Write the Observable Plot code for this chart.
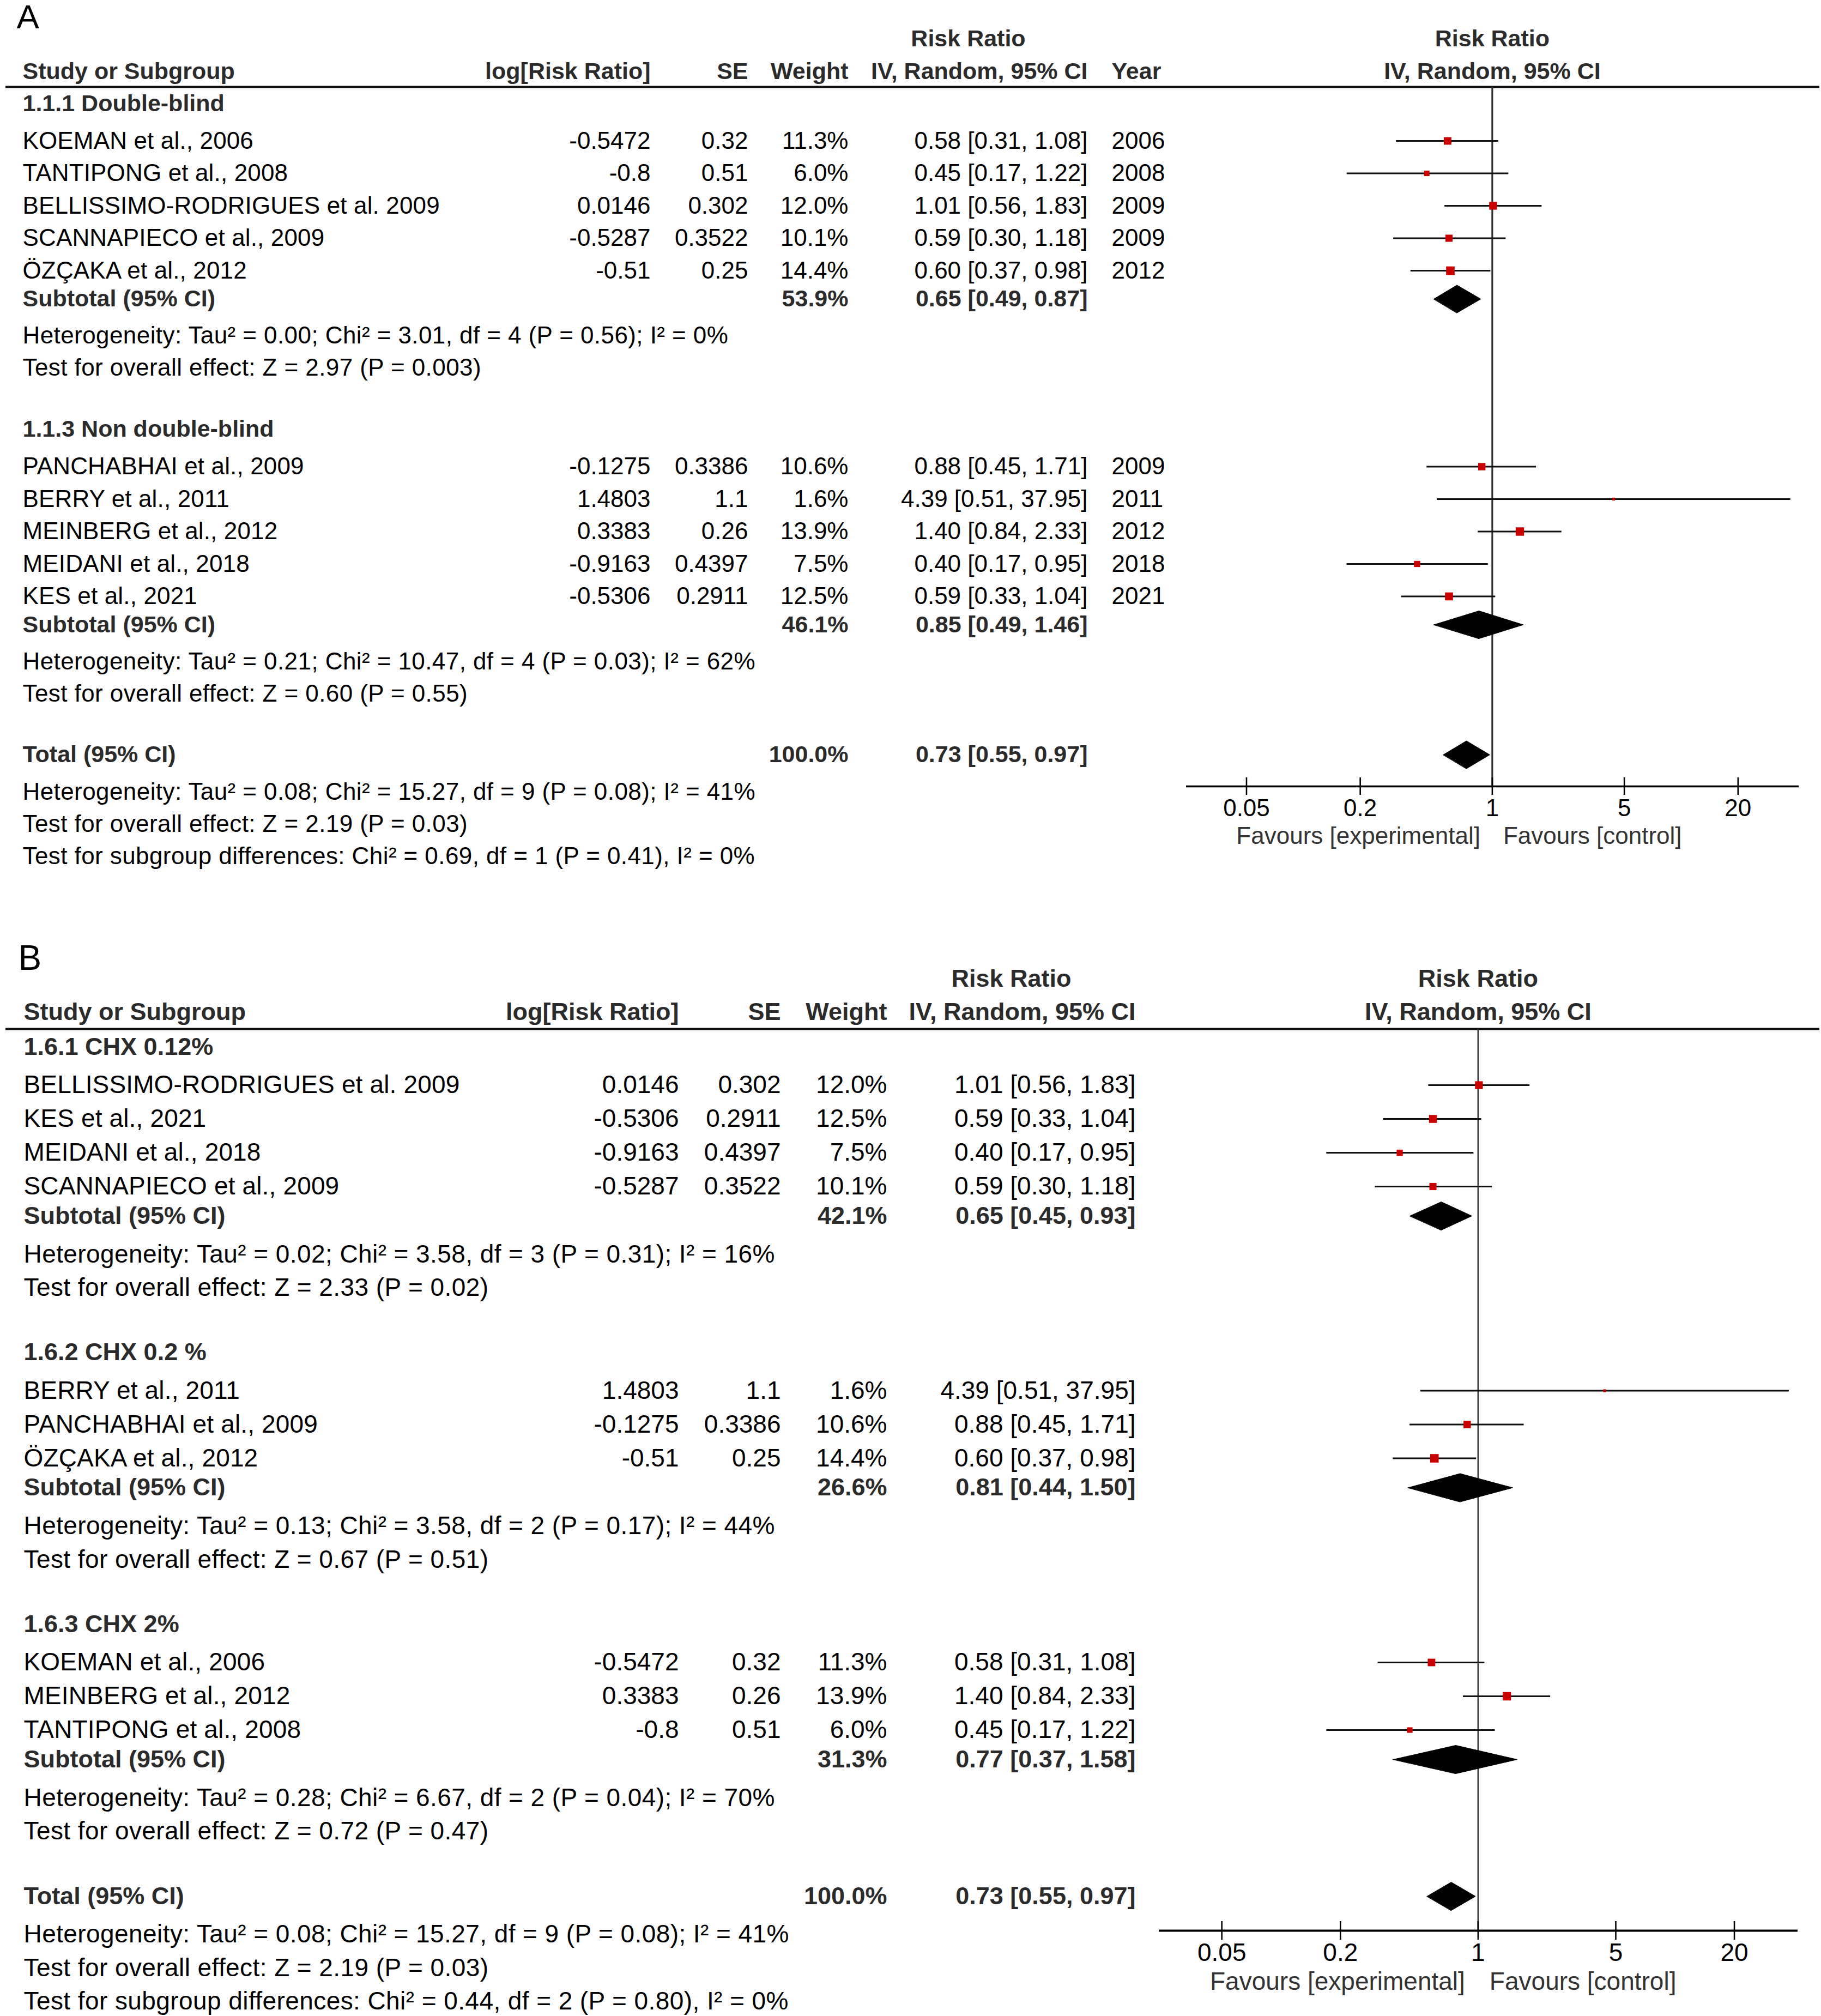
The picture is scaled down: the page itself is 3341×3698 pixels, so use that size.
<!DOCTYPE html>
<html>
<head>
<meta charset="utf-8">
<script src="https://cdn.jsdelivr.net/npm/d3@7"></script>
<script src="https://cdn.jsdelivr.net/npm/@observablehq/plot@0.6"></script>
<style>
html, body { margin: 0; padding: 0; background: #fff; }
#page { position: relative; width: 3341px; height: 3698px; background: #fff; }
.panel { position: absolute; left: 0; width: 3341px; }
.panel svg { position: absolute; left: 0; top: 0; max-width: none; }
</style>
</head>
<body>
<div id="page"></div>
<script>
// ---------------- DATA ----------------
const studyName = ["KOEMAN et al., 2006", "TANTIPONG et al., 2008", "BELLISSIMO-RODRIGUES et al. 2009",
  "SCANNAPIECO et al., 2009", "ÖZÇAKA et al., 2012", "PANCHABHAI et al., 2009", "BERRY et al., 2011",
  "MEINBERG et al., 2012", "MEIDANI et al., 2018", "KES et al., 2021"];
const logRR  = [-0.5472, -0.8, 0.0146, -0.5287, -0.51, -0.1275, 1.4803, 0.3383, -0.9163, -0.5306];
const SE     = [0.32, 0.51, 0.302, 0.3522, 0.25, 0.3386, 1.1, 0.26, 0.4397, 0.2911];
const weight = [11.3, 6.0, 12.0, 10.1, 14.4, 10.6, 1.6, 13.9, 7.5, 12.5];
const rr     = [0.58, 0.45, 1.01, 0.59, 0.60, 0.88, 4.39, 1.40, 0.40, 0.59];
const ciLow  = [0.31, 0.17, 0.56, 0.30, 0.37, 0.45, 0.51, 0.84, 0.17, 0.33];
const ciHigh = [1.08, 1.22, 1.83, 1.18, 0.98, 1.71, 37.95, 2.33, 0.95, 1.04];
const year   = [2006, 2008, 2009, 2009, 2012, 2009, 2011, 2012, 2018, 2021];

// Panel A subgroups
const groupTitleA   = ["1.1.1 Double-blind", "1.1.3 Non double-blind"];
const groupMembersA = [[0, 1, 2, 3, 4], [5, 6, 7, 8, 9]];
const subWeightA = [53.9, 46.1];
const subRRA     = [0.65, 0.85];
const subLowA    = [0.49, 0.49];
const subHighA   = [0.87, 1.46];
const hetA  = ["Heterogeneity: Tau² = 0.00; Chi² = 3.01, df = 4 (P = 0.56); I² = 0%",
               "Heterogeneity: Tau² = 0.21; Chi² = 10.47, df = 4 (P = 0.03); I² = 62%"];
const testA = ["Test for overall effect: Z = 2.97 (P = 0.003)",
               "Test for overall effect: Z = 0.60 (P = 0.55)"];
const subgroupDiffA = "Test for subgroup differences: Chi² = 0.69, df = 1 (P = 0.41), I² = 0%";

// Panel B subgroups
const groupTitleB   = ["1.6.1 CHX 0.12%", "1.6.2 CHX 0.2 %", "1.6.3 CHX 2%"];
const groupMembersB = [[2, 9, 8, 3], [6, 5, 4], [0, 7, 1]];
const subWeightB = [42.1, 26.6, 31.3];
const subRRB     = [0.65, 0.81, 0.77];
const subLowB    = [0.45, 0.44, 0.37];
const subHighB   = [0.93, 1.50, 1.58];
const hetB  = ["Heterogeneity: Tau² = 0.02; Chi² = 3.58, df = 3 (P = 0.31); I² = 16%",
               "Heterogeneity: Tau² = 0.13; Chi² = 3.58, df = 2 (P = 0.17); I² = 44%",
               "Heterogeneity: Tau² = 0.28; Chi² = 6.67, df = 2 (P = 0.04); I² = 70%"];
const testB = ["Test for overall effect: Z = 2.33 (P = 0.02)",
               "Test for overall effect: Z = 0.67 (P = 0.51)",
               "Test for overall effect: Z = 0.72 (P = 0.47)"];
const subgroupDiffB = "Test for subgroup differences: Chi² = 0.44, df = 2 (P = 0.80), I² = 0%";

// Overall
const totalWeight = 100.0, totalRR = 0.73, totalLow = 0.55, totalHigh = 0.97;
const totalHet  = "Heterogeneity: Tau² = 0.08; Chi² = 15.27, df = 9 (P = 0.08); I² = 41%";
const totalTest = "Test for overall effect: Z = 2.19 (P = 0.03)";

// Axis / header labels
const axisTicks = [0.05, 0.2, 1, 5, 20];
const axisDomain = [0.024, 42];
const favoursLabels = ["Favours [experimental]", "Favours [control]"];
const hdrStudy = "Study or Subgroup", hdrLog = "log[Risk Ratio]", hdrSE = "SE", hdrWeight = "Weight",
      hdrRR = "Risk Ratio", hdrMethod = "IV, Random, 95% CI", hdrYear = "Year",
      subtotalLabel = "Subtotal (95% CI)", totalLabel = "Total (95% CI)";

// ---------------- LAYOUT / STYLE ----------------
const FONT = "'Liberation Sans', Arial, Helvetica, sans-serif";
const W = 3341;
const RED = "#c80000";

const panels = [
  {
    label: "A", top: 0, height: 1700, showYear: true, diff: subgroupDiffA,
    groups: groupTitleA.map((t, i) => ({title: t, members: groupMembersA[i], w: subWeightA[i],
      rr: subRRA[i], lo: subLowA[i], hi: subHighA[i], het: hetA[i], test: testA[i]})),
    L: {labelY: 32, rrHeadY: 71, headerY: 131, rule: 159, firstTitle: 189.5, titleToStudy: 68.5, study: 59.5,
        studyToSub: 52, subToHet: 67.5, hetToTest: 59, testToTitle: 112.5, testToTotal: 112, totalToHet: 68,
        hetToTest2: 59, testToDiff: 59, axisGap: 58, tickHalf: 16, tickLabelGap: 40, favoursGap: 91,
        diamondHalf: 25.5, font: 44, bold: 43, labelSize: 62, xRange: [2176, 3300], ciWidth: 3.2,
        nullWidth: 3.2, axisWidth: 3.6, favDx: [-22, 20]},
    C: {label: 30, study: 41, logrr: 1193, se: 1372, weight: 1556, rrHead: 1776, ci: 1995, year: 2039}
  },
  {
    label: "B", top: 1700, height: 1998, showYear: false, diff: subgroupDiffB,
    groups: groupTitleB.map((t, i) => ({title: t, members: groupMembersB[i], w: subWeightB[i],
      rr: subRRB[i], lo: subLowB[i], hi: subHighB[i], het: hetB[i], test: testB[i]})),
    L: {labelY: 58, rrHeadY: 95, headerY: 156, rule: 187, firstTitle: 220, titleToStudy: 70, study: 62,
        studyToSub: 54, subToHet: 70.5, hetToTest: 61.5, testToTitle: 118.5, testToTotal: 119, totalToHet: 70,
        hetToTest2: 62, testToDiff: 61, axisGap: 63, tickHalf: 17, tickLabelGap: 41, favoursGap: 94,
        diamondHalf: 26, font: 46, bold: 45, labelSize: 64, xRange: [2126, 3298], ciWidth: 3,
        nullWidth: 2.6, axisWidth: 4, favDx: [-24, 21]},
    C: {label: 33, study: 43, logrr: 1245, se: 1432, weight: 1627, rrHead: 1855, ci: 2083}
  }
];

const fmtCI = (a, b, c) => `${a.toFixed(2)} [${b.toFixed(2)}, ${c.toFixed(2)}]`;

function buildRows(p) {
  const L = p.L;
  const rows = [];
  let y = L.firstTitle;
  p.groups.forEach((g, gi) => {
    if (gi > 0) y += L.testToTitle;
    rows.push({kind: "title", y, text: g.title});
    y += L.titleToStudy;
    g.members.forEach((m, k) => {
      if (k > 0) y += L.study;
      rows.push({kind: "study", y, i: m, name: studyName[m], logrr: String(logRR[m]), se: String(SE[m]),
        weight: weight[m].toFixed(1) + "%", ci: fmtCI(rr[m], ciLow[m], ciHigh[m]), year: String(year[m]),
        rr: rr[m], lo: ciLow[m], hi: ciHigh[m], w: weight[m]});
    });
    y += L.studyToSub;
    rows.push({kind: "sub", y, label: subtotalLabel, weight: g.w.toFixed(1) + "%", ci: fmtCI(g.rr, g.lo, g.hi),
      rr: g.rr, lo: g.lo, hi: g.hi});
    y += L.subToHet;
    rows.push({kind: "note", y, text: g.het});
    y += L.hetToTest;
    rows.push({kind: "note", y, text: g.test});
  });
  y += L.testToTotal;
  rows.push({kind: "total", y, label: totalLabel, weight: totalWeight.toFixed(1) + "%",
    ci: fmtCI(totalRR, totalLow, totalHigh), rr: totalRR, lo: totalLow, hi: totalHigh});
  const totalY = y;
  y += L.totalToHet;
  rows.push({kind: "note", y, text: totalHet});
  y += L.hetToTest2;
  rows.push({kind: "note", y, text: totalTest});
  y += L.testToDiff;
  rows.push({kind: "note", y, text: p.diff});
  return {rows, axisY: totalY + L.axisGap};
}

const page = document.getElementById("page");

for (const p of panels) {
  const L = p.L, C = p.C, H = p.height;
  const {rows, axisY} = buildRows(p);
  const studies = rows.filter(r => r.kind === "study");
  const pooled = rows.filter(r => r.kind === "sub" || r.kind === "total");
  const notes = rows.filter(r => r.kind === "note");
  const boldColor = "#2b2b2b";

  const div = document.createElement("div");
  div.className = "panel";
  div.style.top = p.top + "px";
  div.style.height = H + "px";
  page.appendChild(div);

  const yScale = {type: "linear", domain: [0, H], range: [0, H], axis: null};

  // ----- table -----
  const headers = [
    {t: hdrStudy, x: C.study, a: "start"},
    {t: hdrLog, x: C.logrr, a: "end"},
    {t: hdrSE, x: C.se, a: "end"},
    {t: hdrWeight, x: C.weight, a: "end"},
    {t: hdrMethod, x: C.ci, a: "end"}
  ];
  if (p.showYear) headers.push({t: hdrYear, x: C.year, a: "start"});

  const common = {fontFamily: FONT, lineAnchor: "middle"};
  const tableMarks = [
    Plot.text([p.label], {...common, x: C.label, y: L.labelY, text: d => d, textAnchor: "start", fontSize: L.labelSize}),
    Plot.text([hdrRR], {...common, x: C.rrHead, y: L.rrHeadY, text: d => d, textAnchor: "middle", fontSize: L.bold, fontWeight: "bold", fill: boldColor}),
    Plot.text(headers.filter(h => h.a === "start"), {...common, x: "x", y: () => L.headerY, text: "t", textAnchor: "start", fontSize: L.bold, fontWeight: "bold", fill: boldColor}),
    Plot.text(headers.filter(h => h.a === "end"), {...common, x: "x", y: () => L.headerY, text: "t", textAnchor: "end", fontSize: L.bold, fontWeight: "bold", fill: boldColor}),
    Plot.ruleY([L.rule], {x1: 10, x2: W - 3, stroke: "#111", strokeWidth: 4}),
    // group titles
    Plot.text(rows.filter(r => r.kind === "title"), {...common, x: C.study, y: "y", text: "text", textAnchor: "start", fontSize: L.bold, fontWeight: "bold", fill: boldColor}),
    // study rows
    Plot.text(studies, {...common, x: C.study, y: "y", text: "name", textAnchor: "start", fontSize: L.font, fill: "#000"}),
    Plot.text(studies, {...common, x: C.logrr, y: "y", text: "logrr", textAnchor: "end", fontSize: L.font, fill: "#000"}),
    Plot.text(studies, {...common, x: C.se, y: "y", text: "se", textAnchor: "end", fontSize: L.font, fill: "#000"}),
    Plot.text(studies, {...common, x: C.weight, y: "y", text: "weight", textAnchor: "end", fontSize: L.font, fill: "#000"}),
    Plot.text(studies, {...common, x: C.ci, y: "y", text: "ci", textAnchor: "end", fontSize: L.font, fill: "#000"}),
    // subtotal / total
    Plot.text(pooled, {...common, x: C.study, y: "y", text: "label", textAnchor: "start", fontSize: L.bold, fontWeight: "bold", fill: boldColor}),
    Plot.text(pooled, {...common, x: C.weight, y: "y", text: "weight", textAnchor: "end", fontSize: L.bold, fontWeight: "bold", fill: boldColor}),
    Plot.text(pooled, {...common, x: C.ci, y: "y", text: "ci", textAnchor: "end", fontSize: L.bold, fontWeight: "bold", fill: boldColor}),
    // notes
    Plot.text(notes, {...common, x: C.study, y: "y", text: "text", textAnchor: "start", fontSize: L.font, fill: "#000"})
  ];
  if (p.showYear) {
    tableMarks.push(Plot.text(studies, {...common, x: C.year, y: "y", text: "year", textAnchor: "start", fontSize: L.font, fill: "#000"}));
  }

  const table = Plot.plot({
    width: W, height: H,
    marginTop: 0, marginRight: 0, marginBottom: 0, marginLeft: 0,
    x: {type: "linear", domain: [0, W], range: [0, W], axis: null},
    y: yScale,
    style: {background: "transparent", fontFamily: FONT, overflow: "visible"},
    marks: tableMarks
  });

  // slightly looser tracking for the statistics lines and study names, as in the source rendering
  const noteSet = new Set(notes.map(r => r.text));
  const nameSet = new Set(studies.map(r => r.name));
  d3.select(table).selectAll("text").each(function () {
    const t = this.textContent;
    if (noteSet.has(t)) this.setAttribute("letter-spacing", "0.42");
    else if (nameSet.has(t)) this.setAttribute("letter-spacing", "0.15");
  });

  // ----- forest -----
  const diamonds = pooled.flatMap((r, k) => [
    {id: k, x: r.lo, y: r.y},
    {id: k, x: r.rr, y: r.y - L.diamondHalf},
    {id: k, x: r.hi, y: r.y},
    {id: k, x: r.rr, y: r.y + L.diamondHalf}
  ]);

  const forest = Plot.plot({
    width: W, height: H,
    marginTop: 0, marginRight: 0, marginBottom: 0, marginLeft: 0,
    x: {type: "log", domain: axisDomain, range: L.xRange, axis: null},
    y: yScale,
    r: {type: "sqrt", domain: [0, 15], range: [0, 9]},
    style: {background: "transparent", fontFamily: FONT, overflow: "visible"},
    marks: [
      Plot.text([hdrRR], {...common, x: 1, y: L.rrHeadY, text: d => d, textAnchor: "middle", fontSize: L.bold, fontWeight: "bold", fill: boldColor}),
      Plot.text([hdrMethod], {...common, x: 1, y: L.headerY, text: d => d, textAnchor: "middle", fontSize: L.bold, fontWeight: "bold", fill: boldColor}),
      // line of no effect
      Plot.ruleX([1], {y1: L.rule, y2: axisY, stroke: "#333", strokeWidth: L.nullWidth}),
      // confidence intervals
      Plot.ruleY(studies, {y: "y", x1: "lo", x2: "hi", stroke: "#111", strokeWidth: L.ciWidth}),
      // study estimates
      Plot.dot(studies, {x: "rr", y: "y", r: "w", symbol: "square", fill: RED, stroke: null}),
      // pooled diamonds
      Plot.line(diamonds, {x: "x", y: "y", z: "id", curve: "linear-closed", fill: "#000", stroke: "#000", strokeWidth: 1}),
      // axis
      Plot.ruleY([axisY], {x1: axisDomain[0], x2: axisDomain[1], stroke: "#000", strokeWidth: L.axisWidth}),
      Plot.ruleX(axisTicks, {x: d => d, y1: axisY - L.tickHalf, y2: axisY + L.tickHalf, stroke: "#000", strokeWidth: 2.6}),
      Plot.text(axisTicks, {...common, x: d => d, y: axisY + L.tickLabelGap, text: d => String(d), textAnchor: "middle", fontSize: L.font, fill: "#000"}),
      Plot.text([favoursLabels[0]], {...common, x: 1, y: axisY + L.favoursGap, text: d => d, textAnchor: "end", dx: L.favDx[0], fontSize: L.font, fill: "#333"}),
      Plot.text([favoursLabels[1]], {...common, x: 1, y: axisY + L.favoursGap, text: d => d, textAnchor: "start", dx: L.favDx[1], fontSize: L.font, fill: "#333"})
    ]
  });

  div.appendChild(table);
  div.appendChild(forest);
}
</script>
</body>
</html>
